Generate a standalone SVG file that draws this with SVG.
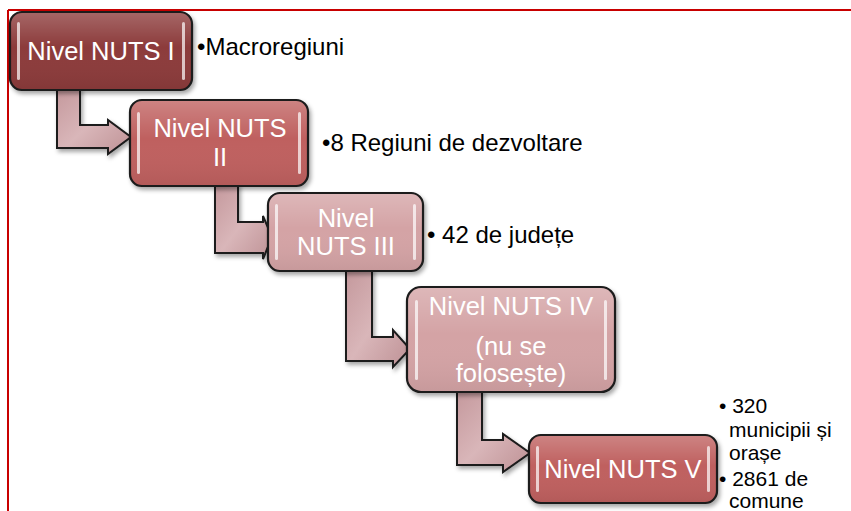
<svg xmlns="http://www.w3.org/2000/svg" width="851" height="511" viewBox="0 0 851 511">
<style>
.box{stroke:#1a1a1a;stroke-width:2.2;filter:url(#sh)}
.dark{fill:#8C3A3A}
.mid{fill:#BF605F}
.light{fill:#D4A3A5}
.gloss{fill:url(#gl)}
.hl{fill:#fff;opacity:.7}
.t{font-family:"Liberation Sans",Arial,sans-serif;font-size:25.5px;fill:#fff;text-anchor:middle}
.s{font-family:"Liberation Sans",Arial,sans-serif;font-size:24px;fill:#000}
.s2{font-family:"Liberation Sans",Arial,sans-serif;font-size:21px;fill:#000}
.arr{fill:url(#ag);stroke:#1a1a1a;stroke-width:2;stroke-linejoin:miter;filter:url(#sh)}
</style>
<defs>
<filter id="sh" x="-10%" y="-10%" width="130%" height="130%">
<feDropShadow dx="2" dy="3" stdDeviation="2" flood-color="#000" flood-opacity="0.35"/>
</filter>
<linearGradient id="gl" x1="0" y1="0" x2="0" y2="1">
<stop offset="0" stop-color="#fff" stop-opacity="0.22"/>
<stop offset="0.45" stop-color="#fff" stop-opacity="0"/>
<stop offset="1" stop-color="#000" stop-opacity="0.06"/>
</linearGradient>
<linearGradient id="ag" x1="0" y1="0" x2="1" y2="1">
<stop offset="0" stop-color="#C4989C"/>
<stop offset="0.5" stop-color="#D9B6B9"/>
<stop offset="1" stop-color="#BE9195"/>
</linearGradient>
</defs>
<rect width="851" height="511" fill="#fff"/>
<g id="frame" fill="none" stroke="#C80000" stroke-width="2">
<line x1="8" y1="10" x2="851" y2="10"/>
<line x1="8" y1="10" x2="8" y2="511"/>
</g>
<g id="connectors">
<polygon class="arr" points="57,88 80,88 80,125 108,125 108,120 131,137 108,154 108,148 57,148"/>
<polygon class="arr" points="215,184 238,184 238,222 263,222 263,216 272,237 263,259 263,253 215,253"/>
<polygon class="arr" points="346,269 372,269 372,337 393,337 393,330 410,349 393,367 393,361 346,361"/>
<polygon class="arr" points="457,390 482,390 482,440 503,440 503,434 530,453 503,472 503,465 457,465"/>
</g>
<g id="n1">
<rect class="box dark" x="10" y="12" width="182" height="78" rx="12"/>
<rect class="gloss" x="11" y="13" width="180" height="76" rx="11"/>
<rect class="hl" x="17" y="22" width="3" height="58" rx="1.5"/>
<rect class="hl" x="182" y="22" width="3" height="58" rx="1.5"/>
<text class="t" x="101" y="60">Nivel NUTS I</text>
</g>
<g id="n2">
<rect class="box mid" x="130" y="100" width="178" height="86" rx="12"/>
<rect class="gloss" x="131" y="101" width="176" height="84" rx="11"/>
<rect class="hl" x="137" y="112" width="3" height="62" rx="1.5"/>
<rect class="hl" x="298" y="112" width="3" height="62" rx="1.5"/>
<text class="t" x="220" y="137">Nivel NUTS</text>
<text class="t" x="220" y="166">II</text>
</g>
<g id="n3">
<rect class="box light" x="268" y="193" width="155" height="78" rx="12"/>
<rect class="gloss" x="269" y="194" width="153" height="76" rx="11"/>
<rect class="hl" x="275" y="204" width="3" height="56" rx="1.5"/>
<rect class="hl" x="413" y="204" width="3" height="56" rx="1.5"/>
<text class="t" x="346" y="227">Nivel</text>
<text class="t" x="346" y="255">NUTS III</text>
</g>
<g id="n4">
<rect class="box light" x="407" y="287" width="208" height="105" rx="14"/>
<rect class="gloss" x="408" y="288" width="206" height="103" rx="13"/>
<rect class="hl" x="415" y="300" width="3" height="80" rx="1.5"/>
<rect class="hl" x="604" y="300" width="3" height="80" rx="1.5"/>
<text class="t" x="511" y="315">Nivel NUTS IV</text>
<text class="t" x="511" y="355">(nu se</text>
<text class="t" x="511" y="382">folosește)</text>
</g>
<g id="n5">
<rect class="box mid" x="529" y="435" width="188" height="68" rx="12"/>
<rect class="gloss" x="530" y="436" width="186" height="66" rx="11"/>
<rect class="hl" x="536" y="446" width="3" height="46" rx="1.5"/>
<rect class="hl" x="707" y="446" width="3" height="46" rx="1.5"/>
<text class="t" x="623" y="478">Nivel NUTS V</text>
</g>
<g id="labels">
<text class="s" x="197" y="55">•Macroregiuni</text>
<text class="s" x="322" y="151">•8 Regiuni de dezvoltare</text>
<text class="s" x="427" y="243">• 42 de județe</text>
<text class="s2" x="719" y="413">• 320</text>
<text class="s2" x="729" y="437">municipii și</text>
<text class="s2" x="729" y="460">orașe</text>
<text class="s2" x="719" y="486">• 2861 de</text>
<text class="s2" x="729" y="508">comune</text>
</g>
</svg>
